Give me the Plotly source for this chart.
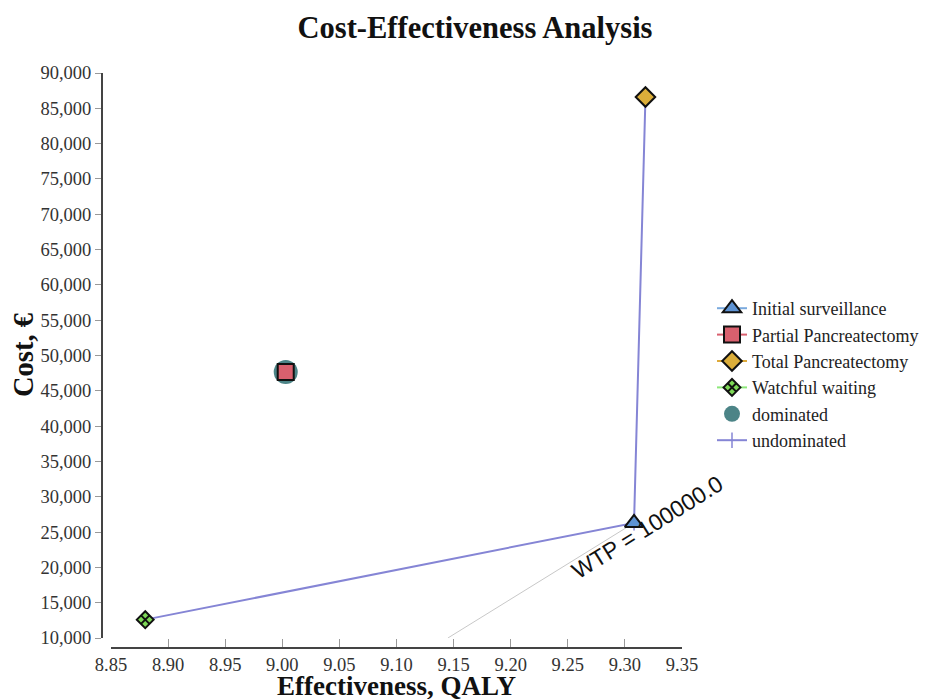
import plotly.graph_objects as go

strategies = ["Initial surveillance", "Partial Pancreatectomy", "Total Pancreatectomy", "Watchful waiting"]
effectiveness = [9.308, 9.003, 9.318, 8.880]
cost = [26300, 47650, 86600, 12600]
undominated_names = ["Watchful waiting", "Initial surveillance", "Total Pancreatectomy"]
dominated_names = ["Partial Pancreatectomy"]
wtp = 100000.0
optimal = "Initial surveillance"
x_ticks = [8.85, 8.90, 8.95, 9.00, 9.05, 9.10, 9.15, 9.20, 9.25, 9.30, 9.35]
y_ticks = list(range(10000, 90001, 5000))

line_colors = ["#7aaade", "#d9606f", "#deaa3a", "#8de87a"]
marker_colors = ["#5e93d3", "#d9606e", "#dcae3a", "#7ed957"]
symbols = ["triangle-up", "square", "diamond", "diamond-x"]
sizes = [16, 16, 15, 13]

serif = "Liberation Serif, Times New Roman, serif"
idx = {n: i for i, n in enumerate(strategies)}

# page body has an 8px margin: work in screen pixels, convert to figure pixels
OFF = 8
W, H = 931 - OFF, 699 - OFF
plot_left, plot_right, plot_top, plot_bottom = 102, 690, 70, 648  # screen px
L = plot_left - OFF
R = W - (plot_right - OFF)
T = plot_top - OFF
B = H - (plot_bottom - OFF)
pw, ph = plot_right - plot_left, plot_bottom - plot_top


def sx(px):
    return (px - plot_left) / pw


def sy(py):
    return (plot_bottom - py) / ph


def cx(px):
    return (px - OFF) / W


def cy(py):
    return 1 - (py - OFF) / H


fig = go.Figure()

# WTP line through optimal point down to the bottom of the y range
xo, yo = effectiveness[idx[optimal]], cost[idx[optimal]]
y0 = y_ticks[0]
x0 = xo - (yo - y0) / wtp
fig.add_trace(go.Scatter(x=[x0, xo], y=[y0, yo], mode="lines",
                         line=dict(color="#c8c8c8", width=1), showlegend=False, hoverinfo="skip"))

# undominated frontier
fig.add_trace(go.Scatter(
    x=[effectiveness[idx[n]] for n in undominated_names],
    y=[cost[idx[n]] for n in undominated_names],
    mode="lines+markers", name="undominated",
    line=dict(color="#8585d5", width=2),
    marker=dict(symbol="line-ns-open", size=11, line=dict(color="#8585d5", width=1.5)),
    legendrank=6))

# dominated markers
fig.add_trace(go.Scatter(
    x=[effectiveness[idx[n]] for n in dominated_names],
    y=[cost[idx[n]] for n in dominated_names],
    mode="markers", name="dominated",
    marker=dict(symbol="circle", size=24, color="#4c8487"),
    legendrank=5))

for i, n in enumerate(strategies):
    fig.add_trace(go.Scatter(
        x=[effectiveness[i]], y=[cost[i]], mode="lines+markers", name=n,
        line=dict(color=line_colors[i], width=2),
        marker=dict(symbol=symbols[i], size=sizes[i], color=marker_colors[i],
                    line=dict(color="#111111", width=2)),
        legendrank=i + 1))

# WTP label
fig.add_annotation(x=9.320, y=25700, xref="x", yref="y",
                   text="WTP = " + f"{wtp:.1f}", showarrow=False, textangle=-32,
                   xanchor="center", yanchor="middle",
                   font=dict(family="Liberation Sans, Arial, sans-serif", size=23, color="#111111"))

# axis titles
fig.add_annotation(x=sx(397), y=sy(686), xref="paper", yref="paper",
                   text="<b>Effectiveness, QALY</b>", showarrow=False,
                   xanchor="center", yanchor="middle",
                   font=dict(family=serif, size=27, color="#111111"))
fig.add_annotation(x=sx(23), y=sy(355), xref="paper", yref="paper",
                   text="<b>Cost, €</b>", showarrow=False, textangle=-90,
                   xanchor="center", yanchor="middle",
                   font=dict(family=serif, size=28.5, color="#111111"))

fig.update_layout(
    width=W, height=H, autosize=False,
    margin=dict(l=L, r=R, t=T, b=B, autoexpand=False),
    paper_bgcolor="white", plot_bgcolor="white",
    title=dict(text="<b>Cost-Effectiveness Analysis</b>", x=cx(475), xref="container",
               xanchor="center", y=cy(27), yref="container", yanchor="middle",
               font=dict(family=serif, size=30.5, color="#111111")),
    font=dict(family=serif, size=18, color="#333333"),
    legend=dict(x=cx(712), y=cy(290), xref="container", yref="container",
                xanchor="left", yanchor="top",
                font=dict(family=serif, size=18, color="#222222"), tracegroupgap=0,
                itemwidth=30, bgcolor="rgba(0,0,0,0)"),
    xaxis=dict(range=[8.85, 9.35], domain=[sx(111), sx(682)],
               anchor="free", position=0, tickvals=x_ticks, tickformat=".2f",
               ticks="inside", ticklen=8, tickcolor="#999999", showgrid=False, zeroline=False,
               showline=True, linecolor="#444444", linewidth=2,
               tickfont=dict(family=serif, size=18.5, color="#333333")),
    yaxis=dict(range=[10000, 90000], domain=[sy(638), sy(73)],
               anchor="free", position=0, tickvals=y_ticks, tickformat=",",
               ticks="outside", ticklen=6, tickcolor="#999999", showgrid=False, zeroline=False,
               showline=True, linecolor="#444444", linewidth=2,
               tickfont=dict(family=serif, size=18.5, color="#333333")),
)

fig.write_html("out.html")
